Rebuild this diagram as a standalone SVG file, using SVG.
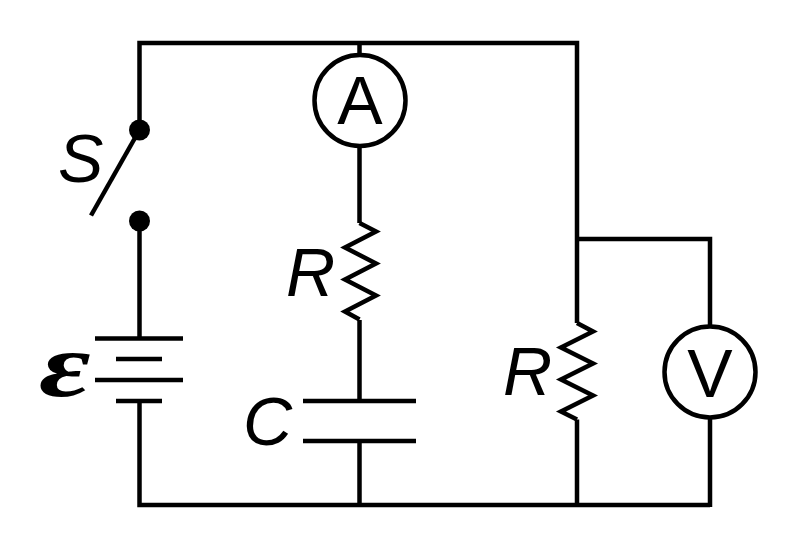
<svg xmlns="http://www.w3.org/2000/svg" width="810" height="534" viewBox="0 0 810 534">
<style>
.w{fill:none;stroke:#000;stroke-width:4.5;stroke-linecap:butt;stroke-linejoin:miter}
.m{fill:#fff;stroke:#000;stroke-width:4.5}
.t{font-family:"Liberation Sans",Arial,sans-serif;font-size:68px;fill:#000}
.i{font-style:italic}
</style>
<rect width="810" height="534" fill="#fff"/>
<g id="connectors">
<path class="w" d="M139.500 130V43H577V323M577 419.500V505M710 505H139.500V401M359.500 43V56M359.500 146V223M359.500 320V401M359.500 441V505M139.500 221V338M577 239H710V326M710 418V507"/>
</g>
<g id="switch">
<circle cx="139.500" cy="130" r="10.500"/>
<circle cx="139.500" cy="221" r="10.500"/>
<path class="w" d="M139.500 130L91 215.500"/>
<text class="t i" x="58" y="182">S</text>
</g>
<g id="battery">
<path class="w" d="M95 338.500H183M116 359H162M95 380H183M116 401H162"/>
<text transform="translate(39 396) scale(1.75 1.25)" font-family="'Liberation Serif',serif" font-style="italic" font-weight="bold" font-size="72">ε</text>
</g>
<g id="ammeter">
<circle class="m" cx="360" cy="100.500" r="45.500"/>
<text class="t" x="360" y="123.500" text-anchor="middle">A</text>
</g>
<g id="resistor1">
<path class="w" d="M359.500 223L376 231.500L345 247.500L376 263.500L345 279.500L376 295.500L345 311.500L359.500 319.500"/>
<text class="t i" x="286" y="296">R</text>
</g>
<g id="capacitor">
<path class="w" d="M303 401H416M303 441H416"/>
<text class="t i" x="243" y="445">C</text>
</g>
<g id="resistor2">
<path class="w" d="M577 323L593 331.500L561 347.500L593 363.500L561 379.500L593 395.500L561 411.500L577 419.500"/>
<text class="t i" x="503" y="395">R</text>
</g>
<g id="voltmeter">
<circle class="m" cx="710" cy="372" r="45.500"/>
<text class="t" x="710" y="397" text-anchor="middle">V</text>
</g>
</svg>
